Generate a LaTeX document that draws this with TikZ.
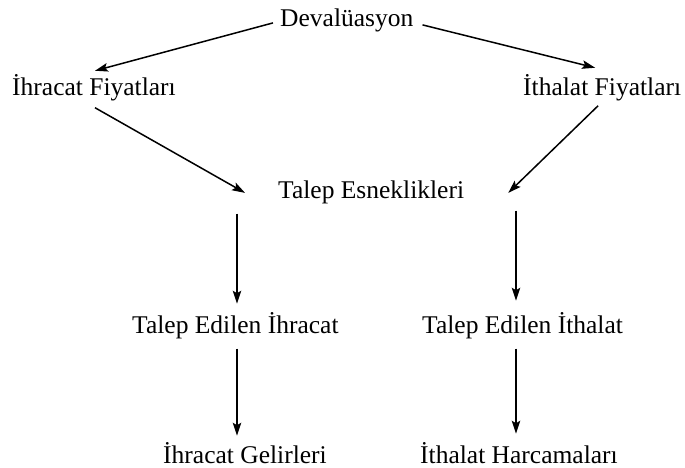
\documentclass[tikz,border=0pt]{standalone}
\usepackage{fontspec}
\setmainfont{Liberation Serif}
\usetikzlibrary{arrows.meta,calc}
\begin{document}
\begin{tikzpicture}[x=1pt,y=-1pt,
  lbl/.style={anchor=base west,inner sep=0pt,font=\fontsize{25.5}{30}\selectfont},
  arr/.style={draw,line width=1.5pt,-{Stealth[length=13pt,width=8.5pt,inset=2.5pt]}}]
\useasboundingbox[fill=white] (0,0) rectangle (685,468);
\node[lbl] (dev)  at (280,27)  {Devalüasyon};
\node[lbl] (ihf)  at (12,96)   {İhracat Fiyatları};
\node[lbl] (ithf) at (523,96)  {İthalat Fiyatları};
\node[lbl] (tes)  at (278,198) {Talep Esneklikleri};
\node[lbl] (tei)  at (132,333) {Talep Edilen İhracat};
\node[lbl] (tet)  at (422,333) {Talep Edilen İthalat};
\node[lbl] (ige)  at (163,463) {İhracat Gelirleri};
\node[lbl] (iha)  at (420,463) {İthalat Harcamaları};
\coordinate (cl) at (237,0);
\coordinate (cr) at (516,0);
% top arrows
\draw[arr] ([shift={(-7,2)}]dev.west) -- ([shift={(1,-4)}]ihf.north);
\draw[arr] ([shift={(9,4)}]dev.east) -- ([shift={(-7,-7)}]ithf.north);
% diagonals into Talep Esneklikleri
\draw[arr] ([shift={(1,6)}]ihf.south) -- ([shift={(-33,1)}]tes.west);
\draw[arr] ([shift={(-4,4)}]ithf.south) -- ([shift={(44,1)}]tes.east);
% verticals
\draw[arr] ([shift={(0,10)}]cl |- tes.south) -- ([shift={(0,-8)}]cl |- tei.north);
\draw[arr] ([shift={(0,7)}]cr |- tes.south) -- ([shift={(0,-11)}]cr |- tet.north);
\draw[arr] ([shift={(0,10)}]cl |- tei.south) -- ([shift={(0,-6)}]cl |- ige.north);
\draw[arr] ([shift={(0,10)}]cr |- tet.south) -- ([shift={(0,-8)}]cr |- iha.north);
\end{tikzpicture}
\end{document}
